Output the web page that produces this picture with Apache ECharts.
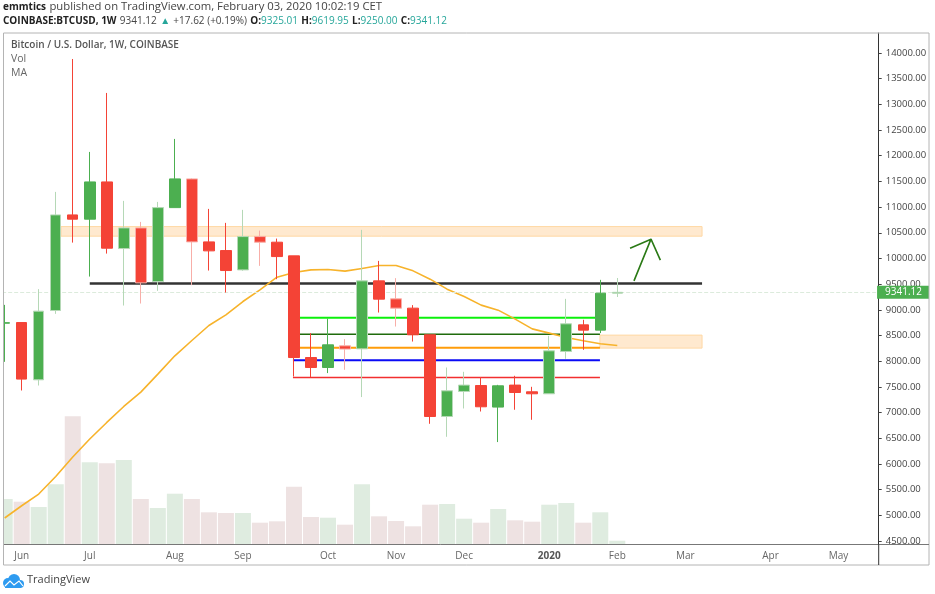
<!DOCTYPE html>
<html>
<head>
<meta charset="utf-8">
<title>BTCUSD 1W</title>
<script src="https://cdn.jsdelivr.net/npm/echarts@6/dist/echarts.min.js"></script>
<style>
html,body{margin:0;padding:0;background:#fff;}
#chart{width:935px;height:594px;}
</style>
</head>
<body>
<div id="chart"></div>
<script>
// weekly candles
var opens  = [8740,8753,7638,8987,10848,10765,11490,10193,10595,9551,10990,11549,10323,10154,9778,10426,10317,10051,8072,7878,8300,8241,9564,9214,9033,8514,6924,7411,7527,7107,7535,7405,7366,8190,8708,8605,9325];
var closes = [8750,7652,8975,10848,10765,11490,10200,10595,9525,10990,11549,10323,10148,9765,10426,10317,10037,8072,7878,8319,8236,9564,9208,9033,8514,6924,7424,7535,7113,7521,7391,7366,8202,8728,8605,9324,9341.12];
var lows   = [7988,7430,7527,8922,10309,9648,10095,9084,9123,9370,10990,9481,9765,9337,9760,9856,9597,7702,7691,7769,7833,7302,8948,8675,8383,6782,6529,7080,7021,6426,7055,6860,7366,8047,8222,8547,9250];
var highs  = [9097,8753,9403,11296,13883,12074,13222,11121,10712,11101,12327,11560,10965,10693,10946,10543,10387,10051,8547,8831,8430,10557,9953,9617,9092,8514,7878,7794,7691,7540,7716,7502,8494,9214,8806,9584,9619.95];
var maValues = [4948,5187,5414,5757,6135,6485,6808,7119,7399,7749,8105,8403,8695,8903,9162,9389,9636,9726,9778,9784,9753,9804,9862,9862,9759,9597,9403,9259,9092,8994,8819,8630,8547,8461,8397,8339,8306];
var volumes = [45,42.3,37,59.7,127.7,81.7,80.7,84,45,36,50.3,45,31.7,31,31,21.3,22.7,57.3,27,26.3,19.3,59.7,27.7,23,17.7,39.3,40,25.3,21.3,35,23.7,22.3,39.3,41,21.3,31.7,3.3];
var lastPrice = 9341.12;

var tickIndex  = [1,5,10,14,19,23,27,32,36,40,45,49];
var tickLabels = ['Jun','Jul','Aug','Sep','Oct','Nov','Dec','2020','Feb','Mar','Apr','May'];
var priceTicks = [4500,5000,5500,6000,6500,7000,7500,8000,8500,9000,9500,10000,10500,11000,11500,12000,12500,13000,13500,14000];

// drawn levels, in week index and price
var levelValues = [9512,8844,8527,8261,8021,7683];
var levelStart  = [5,17.3,17.3,17.3,16.94,16.94];
var levelEnd    = [40.98,34.98,34.98,34.98,34.98,34.98];
var levelColors = ['#333333','#0cf00c','#1f6b0c','#ff9d0a','#0a0af5','#f22f2f'];
var levelWidths = [2.5,2,1.5,2,2,1.5];

var zoneStart = [3.31,34.98];
var zoneEnd   = [40.98,40.98];
var zoneLow   = [10434,8255];
var zoneHigh  = [10621,8508];

var arrowX = [36.98,37.98,36.75,37.98,38.53];
var arrowY = [9564,10376,10200,10376,9967];

// candles whose wick looks washed out in the screenshot
var faintWicks = [2,3,7,8,9,11,14,15,20,21,23,26,27,32,33,36];

var GREEN = '#4caf50', RED = '#f44336';
var FAINT_GREEN = '#b5d8b6', FAINT_RED = '#f8aea8';
var FONT = '"Open Sans", sans-serif';
var WEEKS = 52;

var categories = [];
for (var i = 0; i < WEEKS; i++) {
	var k = tickIndex.indexOf(i);
	categories.push(k >= 0 ? tickLabels[k] : '');
}
var candleData = [], volumeData = [], maData = [];
for (var j = 0; j < opens.length; j++) {
	var faint = faintWicks.indexOf(j) >= 0;
	var up = closes[j] >= opens[j];
	var wick = up ? (faint ? FAINT_GREEN : GREEN) : (faint ? FAINT_RED : RED);
	candleData.push({
		value: [opens[j], closes[j], lows[j], highs[j]],
		itemStyle: {borderColor: wick, borderColor0: wick}
	});
	volumeData.push({
		value: volumes[j],
		itemStyle: {color: up ? '#dfece0' : '#eee2e2'}
	});
	maData.push(maValues[j]);
}
function isTick(index) {
	return tickIndex.indexOf(index) >= 0;
}

var series = [
	{
		name: 'Vol', type: 'bar', xAxisIndex: 0, yAxisIndex: 1,
		data: volumeData, barWidth: 16, z: 1, silent: true
	},
	{
		name: 'zones', type: 'custom', xAxisIndex: 1, yAxisIndex: 0, z: 2, silent: true,
		data: zoneStart.map(function (s, n) { return [s, zoneEnd[n], zoneLow[n], zoneHigh[n]]; }),
		renderItem: function (params, api) {
			var a = api.coord([api.value(0), api.value(3)]);
			var b = api.coord([api.value(1), api.value(2)]);
			return {
				type: 'rect',
				shape: {x: a[0], y: a[1], width: b[0] - a[0], height: b[1] - a[1]},
				style: {fill: '#ffe9cf', stroke: '#ffd8a4', lineWidth: 1}
			};
		}
	}
];
levelValues.forEach(function (v, n) {
	series.push({
		type: 'line', xAxisIndex: 1, yAxisIndex: 0, z: 3, silent: true,
		showSymbol: false, symbol: 'none',
		data: [[levelStart[n], v], [levelEnd[n], v]],
		lineStyle: {color: levelColors[n], width: levelWidths[n]}
	});
});
series.push({
	name: 'MA', type: 'line', xAxisIndex: 0, yAxisIndex: 0, z: 4, silent: true,
	showSymbol: false, symbol: 'none', data: maData,
	lineStyle: {color: '#f7b32b', width: 1.6}
});
series.push({
	name: 'BTCUSD', type: 'candlestick', xAxisIndex: 0, yAxisIndex: 0, z: 5, silent: true,
	barWidth: 11, data: candleData,
	itemStyle: {color: GREEN, color0: RED, borderColor: GREEN, borderColor0: RED, borderColorDoji: GREEN, borderWidth: 1},
	markLine: {
		silent: true, symbol: 'none', animation: false,
		lineStyle: {color: '#dcebdc', width: 1, type: 'dashed'},
		label: {
			position: 'end', distance: 0, offset: [-4, 0], color: '#fff', fontFamily: FONT, fontSize: 10,
			backgroundColor: GREEN, padding: [2, 7, 1, 8],
			formatter: function (p) { return p.value.toFixed(2); }
		},
		data: [{yAxis: lastPrice}]
	}
});
series.push({
	name: 'arrow', type: 'line', xAxisIndex: 1, yAxisIndex: 0, z: 6, silent: true,
	showSymbol: false, symbol: 'none',
	data: arrowX.map(function (x, n) { return [x, arrowY[n]]; }),
	lineStyle: {color: '#2b7a16', width: 1.6}
});

var headStyles = {
	b: {fontWeight: 700, fontSize: 10, fontFamily: FONT, fill: '#222'},
	p: {fontSize: 11.3, fontFamily: FONT, fill: '#444'},
	n: {fontSize: 10, fontFamily: FONT, fill: '#444'},
	t: {fontSize: 10, fontFamily: FONT, fill: '#26a69a'},
	k: {fontWeight: 700, fontSize: 10, fontFamily: FONT, fill: '#222'}
};

var option = {
	animation: false,
	backgroundColor: '#fff',
	grid: {left: -3.83, right: 53.93, top: 33, bottom: 50, outerBoundsMode: 'none'},
	xAxis: [
		{
			type: 'category', data: categories, boundaryGap: true,
			axisLine: {onZero: false, lineStyle: {color: '#777', width: 1}},
			axisTick: {interval: function (index) { return isTick(index); }, alignWithLabel: true, length: 3, lineStyle: {color: '#555'}},
			axisLabel: {
				interval: function (index) { return isTick(index); },
				margin: 7, color: '#666', fontFamily: FONT, fontSize: 10,
				formatter: function (v) { return v === '2020' ? '{y|2020}' : v; },
				rich: {y: {fontWeight: 700, color: '#555', fontFamily: FONT, fontSize: 10}}
			},
			splitLine: {show: false}
		},
		{type: 'value', min: -0.5, max: WEEKS - 0.5, show: false, splitLine: {show: false}}
	],
	yAxis: [
		{
			type: 'value', position: 'right', offset: -2.37, min: 4442, max: 14389, scale: true,
			axisLine: {show: true, onZero: false, lineStyle: {color: '#333', width: 1}},
			axisTick: {show: true, length: 3, customValues: priceTicks, lineStyle: {color: '#444'}},
			axisLabel: {
				customValues: priceTicks, margin: 7, color: '#444', fontFamily: FONT, fontSize: 9.5,
				formatter: function (v) { return v.toFixed(2); }
			},
			splitLine: {show: false}
		},
		{type: 'value', min: 0, max: 511, show: false, splitLine: {show: false}}
	],
	series: series,
	graphic: {elements: [
		// hides what falls left of the frame
		{type: 'rect', z: 50, shape: {x: 0, y: 33, width: 3.5, height: 532}, style: {fill: '#fff'}},
		{type: 'rect', z: 51, shape: {x: 3.5, y: 33, width: 925.5, height: 532}, style: {fill: 'none', stroke: '#b4b4b4', lineWidth: 1}},
		{type: 'line', z: 51, shape: {x1: 881, y1: 544.5, x2: 929, y2: 544.5}, style: {stroke: '#777', lineWidth: 1}},
		{type: 'line', z: 51, shape: {x1: 878.7, y1: 544, x2: 878.7, y2: 565}, style: {stroke: '#333', lineWidth: 1}},
		{type: 'text', z: 52, x: 3, y: 1, style: {
			text: '{b|emmtics} {p|published on TradingView.com, February 03, 2020 10:02:19 CET}',
			rich: headStyles
		}},
		{type: 'text', z: 52, x: 3, y: 15, style: {
			text: '{b|COINBASE:BTCUSD, 1W} {n|9341.12} {t|▲} {n|+17.62 (+0.19%)} {k|O:}{t|9325.01} {k|H:}{t|9619.95} {k|L:}{t|9250.00} {k|C:}{t|9341.12}',
			rich: headStyles
		}},
		{type: 'text', z: 52, x: 11, y: 40, style: {text: 'Bitcoin / U.S. Dollar, 1W, COINBASE', fontFamily: FONT, fontSize: 10, fontWeight: 600, fill: '#555'}},
		{type: 'text', z: 52, x: 11, y: 54, style: {text: 'Vol', fontFamily: FONT, fontSize: 10.5, fill: '#666'}},
		{type: 'text', z: 52, x: 11, y: 68, style: {text: 'MA', fontFamily: FONT, fontSize: 10.5, fill: '#666'}},
		// TradingView cloud
		{type: 'circle', z: 52, shape: {cx: 8, cy: 583, r: 5}, style: {fill: '#2e9bf0'}},
		{type: 'circle', z: 52, shape: {cx: 14, cy: 580, r: 6}, style: {fill: '#2e9bf0'}},
		{type: 'circle', z: 52, shape: {cx: 20, cy: 584, r: 4}, style: {fill: '#2e9bf0'}},
		{type: 'rect', z: 52, shape: {x: 5, y: 583, width: 16, height: 5}, style: {fill: '#2e9bf0'}},
		{type: 'polyline', z: 53, shape: {points: [[5, 586], [10, 581], [14, 585], [19, 581], [23, 586]]}, style: {stroke: '#fff', fill: 'none', lineWidth: 1.2}},
		{type: 'text', z: 52, x: 27, y: 574, style: {text: 'TradingView', fontFamily: FONT, fontSize: 11, fill: '#444'}}
	]}
};

var chart = echarts.init(document.getElementById('chart'), null, {renderer: 'canvas'});
chart.setOption(option);
</script>
</body>
</html>
